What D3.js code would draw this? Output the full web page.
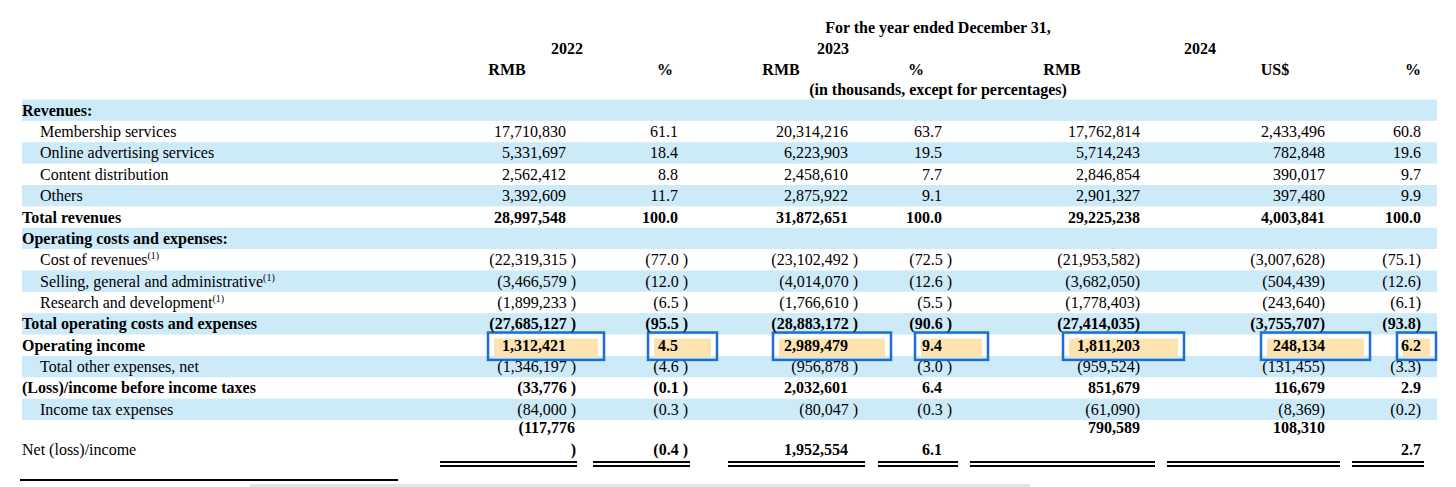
<!DOCTYPE html>
<html><head><meta charset="utf-8">
<script src="https://cdn.jsdelivr.net/npm/d3@7/dist/d3.min.js"></script>
<style>body{margin:0;background:#fff}svg{font-family:"Liberation Serif","Times New Roman",serif;font-size:16px}</style>
</head><body>
<script>
// row labels, bold flag, indent flag
var labels = ["Revenues:", "Membership services", "Online advertising services", "Content distribution", "Others",
  "Total revenues", "Operating costs and expenses:", "Cost of revenues", "Selling, general and administrative",
  "Research and development", "Total operating costs and expenses", "Operating income", "Total other expenses, net",
  "(Loss)/income before income taxes", "Income tax expenses", "Net (loss)/income"];
var boldRows = [0, 5, 6, 10, 11, 13, 15];
var footnoteRows = [7, 8, 9];
var years = ["2022", "2023", "2024"];
var colHeads = ["RMB", "%", "RMB", "%", "RMB", "US$", "%"];

var rmb2022 = [null, 17710830, 5331697, 2562412, 3392609, 28997548, null, -22319315, -3466579, -1899233, -27685127, 1312421, -1346197, -33776, -84000, -117776];
var pct2022 = [null, 61.1, 18.4, 8.8, 11.7, 100.0, null, -77.0, -12.0, -6.5, -95.5, 4.5, -4.6, -0.1, -0.3, -0.4];
var rmb2023 = [null, 20314216, 6223903, 2458610, 2875922, 31872651, null, -23102492, -4014070, -1766610, -28883172, 2989479, -956878, 2032601, -80047, 1952554];
var pct2023 = [null, 63.7, 19.5, 7.7, 9.1, 100.0, null, -72.5, -12.6, -5.5, -90.6, 9.4, -3.0, 6.4, -0.3, 6.1];
var rmb2024 = [null, 17762814, 5714243, 2846854, 2901327, 29225238, null, -21953582, -3682050, -1778403, -27414035, 1811203, -959524, 851679, -61090, 790589];
var usd2024 = [null, 2433496, 782848, 390017, 397480, 4003841, null, -3007628, -504439, -243640, -3755707, 248134, -131455, 116679, -8369, 108310];
var pct2024 = [null, 60.8, 19.6, 9.7, 9.9, 100.0, null, -75.1, -12.6, -6.1, -93.8, 6.2, -3.3, 2.9, -0.2, 2.7];

var series = [rmb2022, pct2022, rmb2023, pct2023, rmb2024, usd2024, pct2024];
var W = 1456, H = 487;
// column layout: right edge of number, paren spaced?, header centre, underline extent, highlight box
var cols = [
  {r: 566, sp: true, hx: 507, ul: [440, 577], box: [488, 604]},
  {r: 678, sp: true, hx: 665, ul: [593, 690], box: [648, 717]},
  {r: 848, sp: true, hx: 781, ul: [728, 865], box: [773, 891]},
  {r: 942, sp: true, hx: 916, ul: [878, 958], box: [915, 988]},
  {r: 1140, sp: false, hx: 1062, ul: [970, 1155], box: [1063, 1184]},
  {r: 1325, sp: false, hx: 1275, ul: [1167, 1340], box: [1261, 1370]},
  {r: 1421, sp: false, hx: 1413, ul: [1352, 1424], box: [1397, 1436]}
];
var yearX = [567, 833, 1200];

var svg = d3.select("body").append("svg").attr("width", W).attr("height", H);
var y = d3.scaleBand().domain(d3.range(15)).range([99.5, 420]).padding(0);

// stripes
svg.selectAll("rect.stripe").data(d3.range(0, 15, 2)).enter().append("rect")
  .attr("x", 22).attr("width", 1415).attr("y", function (d) { return y(d); })
  .attr("height", y.bandwidth()).attr("fill", "#cdeaf8");

// header
var hd = svg.append("g").attr("font-weight", "bold").attr("text-anchor", "middle");
hd.append("text").attr("x", 938).attr("y", 33).text("For the year ended December 31,");
hd.selectAll("text.yr").data(years).enter().append("text").attr("x", function (d, i) { return yearX[i]; }).attr("y", 54).text(function (d) { return d; });
hd.selectAll("text.ch").data(colHeads).enter().append("text").attr("x", function (d, i) { return cols[i].hx; }).attr("y", 75).text(function (d) { return d; });
hd.append("text").attr("x", 938).attr("y", 95).text("(in thousands, except for percentages)");

// highlight boxes
var oi = 11;
cols.forEach(function (c) {
  svg.append("rect").attr("x", c.box[0] + 6).attr("y", y(oi) + 4).attr("width", c.box[1] - c.box[0] - 12).attr("height", y.bandwidth() - 3).attr("fill", "#fde3b0");
  svg.append("rect").attr("x", c.box[0]).attr("y", y(oi) - 2).attr("width", c.box[1] - c.box[0]).attr("height", y.bandwidth() + 6).attr("fill", "none").attr("stroke", "#1c6fd1").attr("stroke-width", 2.5);
});

function rowY(i) { return i < 15 ? y(i) + y.bandwidth() / 2 + 5.5 : 455; }

// labels
labels.forEach(function (l, i) {
  var b = boldRows.indexOf(i) >= 0;
  var t = svg.append("text").attr("x", b ? 22 : 40).attr("y", rowY(i)).attr("font-weight", b && i !== 15 ? "bold" : null).text(l);
  if (footnoteRows.indexOf(i) >= 0) t.append("tspan").attr("font-size", 10).attr("dy", -6).text("(1)");
});

// values
var fmt = d3.format(",");
series.forEach(function (s, ci) {
  var c = cols[ci], pct = ci === 1 || ci === 3 || ci === 6;
  s.forEach(function (v, ri) {
    if (v === null) return;
    var b = boldRows.indexOf(ri) >= 0;
    var txt = pct ? Math.abs(v).toFixed(1) : fmt(Math.abs(v));
    var yy = rowY(ri);
    // net row split across two lines in some columns
    if (ri === 15 && (ci === 0 || ci === 4 || ci === 5)) yy = 433;
    var g = svg.append("text").attr("text-anchor", "end").attr("y", yy).attr("font-weight", b ? "bold" : null);
    if (v < 0) {
      if (ri === 15 && ci === 0) {
        g.attr("x", c.r + 9).text("(" + txt);
        svg.append("text").attr("text-anchor", "end").attr("x", c.r + 10).attr("y", 455).attr("font-weight", "bold").text(")");
      } else {
        g.attr("x", c.r + (c.sp ? 10 : 0)).text("(" + txt + (c.sp ? " )" : ")"));
      }
    } else {
      g.attr("x", c.r).text(txt);
    }
  });
});

// double underlines
cols.forEach(function (c) {
  [462, 466].forEach(function (yy) {
    svg.append("line").attr("x1", c.ul[0]).attr("x2", c.ul[1]).attr("y1", yy).attr("y2", yy).attr("stroke", "#000").attr("stroke-width", 2);
  });
});
svg.append("line").attr("x1", 20).attr("x2", 398).attr("y1", 480).attr("y2", 480).attr("stroke", "#000").attr("stroke-width", 2);
svg.append("rect").attr("x", 250).attr("y", 484).attr("width", 780).attr("height", 3).attr("fill", "#e4e4e4");
</script>
</body></html>
